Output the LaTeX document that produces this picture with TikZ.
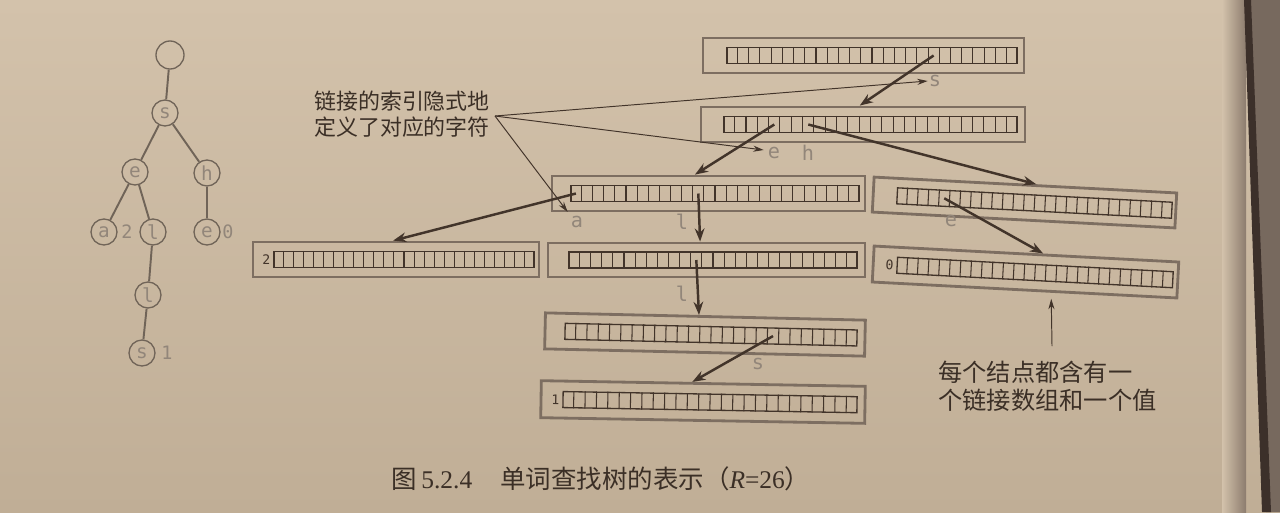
\documentclass[tikz,border=0pt]{standalone}
\usepackage{fontspec}
\setmainfont{Liberation Serif}
\newfontfamily\cjk{Noto Sans CJK SC}
\newfontfamily\monof{DejaVu Sans Mono}
\usetikzlibrary{calc,arrows.meta}
\definecolor{paper}{RGB}{211,194,171}
\definecolor{paperdark}{RGB}{192,174,150}
\definecolor{ink}{RGB}{66,52,42}
\definecolor{boxgray}{RGB}{125,110,97}
\definecolor{lightink}{RGB}{146,134,122}
\definecolor{treeink}{RGB}{112,100,88}
\definecolor{edgedark}{RGB}{60,48,42}
\definecolor{edgemid}{RGB}{140,124,110}
\def\pxu{0.02cm}
\tikzset{
 outerbox/.style={draw=boxgray, line width=1.6pt, inner sep=0pt, rectangle},
 arraybox/.style={draw=ink, line width=0.75pt, inner sep=0pt, minimum height=16*\pxu, rectangle},
 cellline/.style={draw=ink, line width=0.6pt},
 valtext/.style={font=\monof\fontsize{7.5}{8}\selectfont, text=ink, inner sep=1.5pt},
 letter/.style={font=\monof\fontsize{11.5}{12}\selectfont, text=lightink, inner sep=0.5pt},
 link/.style={draw=ink, line width=1.4pt, -{Stealth[length=7.5pt,width=5.5pt]}},
 pointer/.style={draw=ink, line width=0.55pt, -{Stealth[length=6pt,width=3.5pt]}},
 tnode/.style={circle, draw=treeink, line width=0.75pt, minimum size=26*\pxu, inner sep=0pt, font=\monof\fontsize{11}{12}\selectfont, text=lightink},
 tedge/.style={draw=treeink, line width=1.1pt},
 tval/.style={font=\monof\fontsize{10.5}{12}\selectfont, text=lightink, inner sep=0pt},
 cjktext/.style={font=\cjk\fontsize{12.5}{15}\selectfont, text=ink!90!black, inner sep=0pt},
}
\newcommand\trie[9]{%
 \begin{scope}[shift={(#2,#3)},rotate=#8,transform shape]
 \node[outerbox,minimum width=#4*\pxu,minimum height=#5*\pxu] (#1o) at (0,0) {};
 \node[arraybox,minimum width=#6*\pxu] (#1a) at (#7,0) {};
 \foreach \k in {1,...,25}{\draw[cellline] ($(#1a.north west)!\k/26!(#1a.north east)$) -- ($(#1a.south west)!\k/26!(#1a.south east)$);}
 \node[valtext,anchor=east] (#1v) at (#1a.west) {#9};
 \end{scope}}
\begin{document}
\begin{tikzpicture}[x=0.02cm,y=-0.02cm]
\useasboundingbox (0,0) rectangle (1280,512);
% paper and page edge
\shade[top color=paper, bottom color=paperdark] (0,0) rectangle (1280,512);
\shade[left color=paper, right color=edgemid] (1222,0) rectangle (1246,512);
\fill[edgemid!85!black] (1246,0) -- (1280,0) -- (1280,512) -- (1266,512) -- cycle;
\fill[edgedark] (1244,0) -- (1251,0) -- (1271,512) -- (1262,512) -- cycle;

% ---------- left tree ----------
\node[tnode,minimum size=28*\pxu] (r) at (170,55) {};
\node[tnode] (ts) at (165,113) {s};
\node[tnode] (te) at (135,172) {e};
\node[tnode] (th) at (207,173) {h};
\node[tnode] (ta) at (104,232) {a};
\node[tnode] (tl) at (153,232) {l};
\node[tnode] (te2) at (207,232) {e};
\node[tnode] (tl2) at (148,295) {l};
\node[tnode] (ts2) at (142,353) {s};
\node[tval] (v2) at (127,232) {2};
\node[tval] (v0) at (228,232) {0};
\node[tval] (v1) at (167,353) {1};
\draw[tedge] (r) -- (ts);
\draw[tedge] (ts) -- (te);
\draw[tedge] (ts) -- (th);
\draw[tedge] (te) -- (ta);
\draw[tedge] (te) -- (tl);
\draw[tedge] (th) -- (te2);
\draw[tedge] (tl) -- (tl2);
\draw[tedge] (tl2) -- (ts2);

% ---------- trie nodes ----------
\trie{A}{863.5}{55.5}{321}{35}{290}{8.5}{0}{}
\trie{B}{863}{124.5}{324}{35}{293}{7.5}{0}{}
\trie{C}{708.5}{193.5}{313}{35}{288}{6.5}{0}{}
\trie{D}{1024.5}{202.5}{303}{35}{275}{10}{-3}{}
\trie{E}{396}{259.5}{286}{35}{260}{8}{0}{2}
\trie{G}{706.5}{260}{317}{34}{288}{6.5}{0}{}
\trie{F}{1025.5}{272}{305}{36}{276}{9.5}{-3}{0}
\trie{H}{705}{334.5}{320}{36}{292}{6}{-1.3}{}
\trie{I}{703}{402}{324}{37}{294}{7}{-1}{1}

% ---------- letters ----------
\node[letter] (ls) at (935,81) {s};
\node[letter] (le) at (774,153) {e};
\node[letter] (lh) at (808,153) {h};
\node[letter] (la) at (577,222) {a};
\node[letter] (ll) at (682,222) {l};
\node[letter] (le2) at (951,221) {e};
\node[letter] (ll2) at (682,294) {l};
\node[letter] (ls2) at (758,364) {s};

% ---------- links ----------
\draw[link] ($(Aa.west)!0.7115!(Aa.east)$) -- ($(Bo.north west)!0.49!(Bo.north east)$);
\draw[link] ($(Ba.west)!0.1731!(Ba.east)$) -- ($(Co.north west)!0.457!(Co.north east)$);
\draw[link] ($(Ba.west)!0.2885!(Ba.east)$) -- ($(Do.north west)!0.535!(Do.north east)$);
\draw[link] ($(Ca.west)!0.0192!(Ca.east)$) -- ($(Eo.north west)!0.49!(Eo.north east)$);
\draw[link] ($(Ca.west)!0.4423!(Ca.east)$) -- ($(Go.north west)!0.48!(Go.north east)$);
\draw[link] ($(Ga.west)!0.4423!(Ga.east)$) -- ($(Ho.north west)!0.48!(Ho.north east)$);
\draw[link] ($(Ha.west)!0.7115!(Ha.east)$) -- ($(Io.north west)!0.466!(Io.north east)$);
\draw[link] ($(Da.west)!0.1731!(Da.east)$) -- ($(Fo.north west)!0.554!(Fo.north east)$);

% ---------- annotations ----------
\node[cjktext,align=left] (t1) at (402,114) {链接的索引隐式地\\定义了对应的字符};
\coordinate (p0) at (495,116);
\draw[pointer] (p0) -- (ls.west);
\draw[pointer] (p0) -- ($(le.west)+(-3,-3)$);
\draw[pointer] (p0) -- ($(la.north west)+(-2,-3)$);

\node[cjktext,align=left,anchor=west,font=\cjk\fontsize{13.8}{16}\selectfont] (t2) at (938,386) {每个结点都含有一\\个链接数组和一个值};
\coordinate (q0) at (1052,346);
\draw[pointer] (q0) -- ($(Fo.south west)!0.587!(Fo.south east)+(0,6)$);

% ---------- caption ----------
\node[inner sep=0pt,text=ink!90!black,font=\fontsize{14.5}{16}\selectfont] (cap) at (601,479) {{\cjk 图}\,5.2.4\hspace{1.1em}{\cjk 单词查找树的表示（}\textit{R}=26{\cjk ）}};
\end{tikzpicture}
\end{document}
